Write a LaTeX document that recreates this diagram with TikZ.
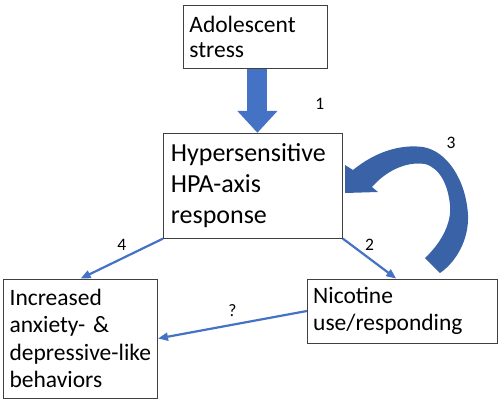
\documentclass[tikz,border=0pt]{standalone}
\usepackage{fontspec}
\setmainfont{Carlito}
\usepackage{tikz}
\usetikzlibrary{positioning,arrows.meta}
\definecolor{arrowblue}{HTML}{4472C4}
\definecolor{loopblue}{HTML}{3A62A7}

\begin{document}
\begin{tikzpicture}[x=1pt, y=-1pt, node distance=40pt,
  main/.style = {draw=black!75, line width=0.8pt, align=left, inner xsep=6pt, inner ysep=0pt},
  big/.style = {font=\fontsize{23.5}{27.6}\selectfont},
  num/.style = {font=\fontsize{17.5}{20}\selectfont, text=black, inner sep=0pt},
  link/.style = {arrowblue, line width=2.2pt, -{Triangle[length=10pt,width=8pt]}}]
\useasboundingbox (0,0) rectangle (500,400);
\node[main, font=\fontsize{23.5}{25}\selectfont, text width=132pt, minimum height=63pt, anchor=north west] (stress) at (183,5) {Adolescent\\stress};
\node[main, font=\fontsize{26}{31}\selectfont, text width=164pt, inner xsep=7.5pt, minimum height=105pt, below=64pt of stress, xshift=-2.5pt] (hpa) {Hypersensitive\\HPA-axis\\response};
\node[main, big, text width=142pt, minimum height=119pt, below left=40pt and 5pt of hpa] (anx) {Increased\\anxiety- \&\\depressive-like\\behaviors};
\node[main, big, text width=178pt, minimum height=64pt, below right=40pt and -36pt of hpa] (nic) {Nicotine\\use/responding};
\draw[arrowblue, line width=20pt, -{Triangle[length=22pt,width=39pt]}] ([xshift=2pt]stress.south) -- node[num, pos=0.55, right=48pt] (l1) {1} ([xshift=2pt]stress.south |- hpa.north);
\draw[link] (hpa.south east) -- node[num, midway, above=7pt] (l2) {2} ([xshift=-6pt]nic.north);
\draw[link] (hpa.south west) -- node[num, midway, above=7pt] (l4) {4} (anx.north);
\draw[link] (nic.west) -- node[num, midway, above=7pt] (lq) {?} (anx.east);
\fill[loopblue] (345,165) -- (353,170) .. controls (375,152) and (400,144) .. (423,147)
  .. controls (447,151) and (466,180) .. (468,215) .. controls (469,240) and (456,262) .. (440,273)
  -- (425,258) .. controls (440,244) and (452,224) .. (450,205) .. controls (448,185) and (440,168) .. (425,164)
  .. controls (405,161) and (385,172) .. (372,187) -- (378,192) -- (345,193) -- cycle;
\node[num] (l3) at (451,143) {3};
\end{tikzpicture}
\end{document}
